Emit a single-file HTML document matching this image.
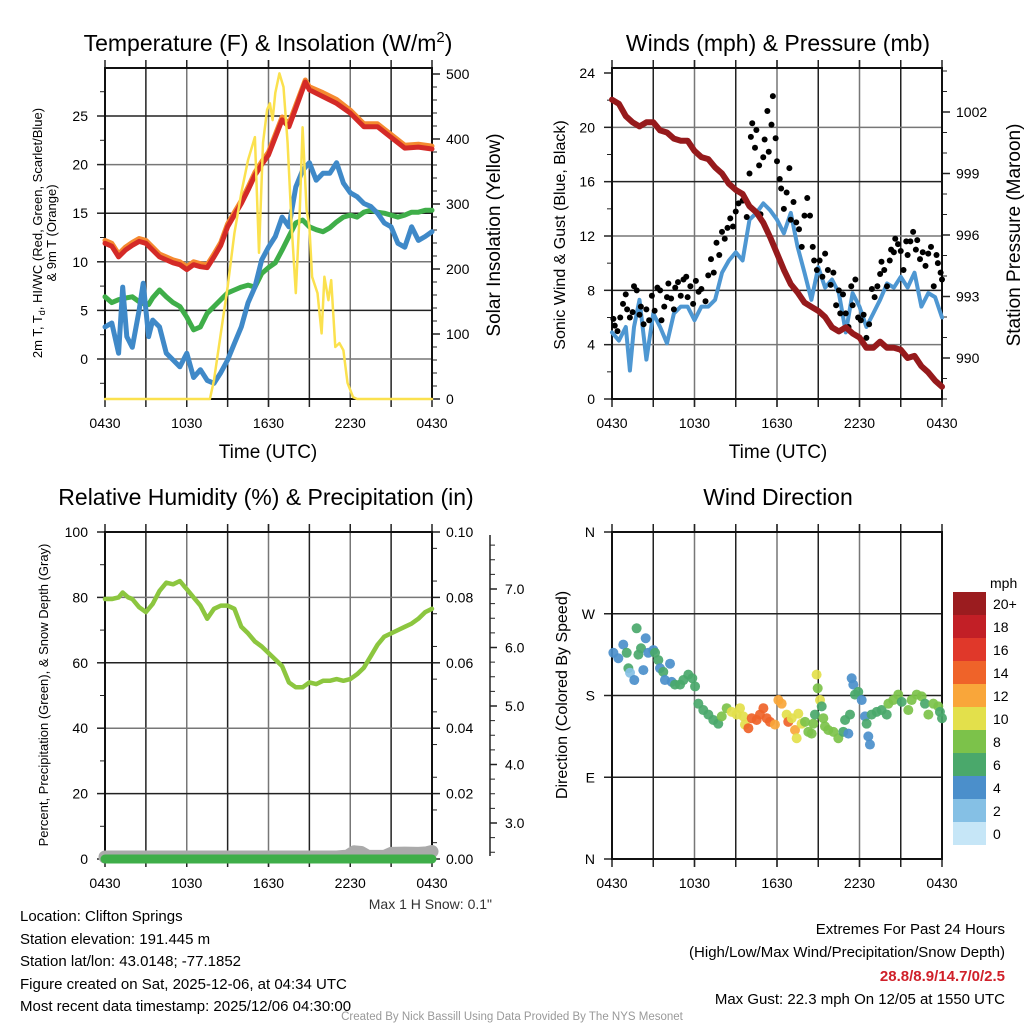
<!DOCTYPE html>
<html><head><meta charset="utf-8">
<style>
html,body{margin:0;padding:0;background:#fff;}
svg text{font-family:"Liberation Sans",Arial,sans-serif;}
</style></head>
<body>
<svg id="c" width="1024" height="1024" viewBox="0 0 1024 1024" xmlns="http://www.w3.org/2000/svg">
<rect width="1024" height="1024" fill="#fff"/>
<text x="268" y="51" font-size="23" text-anchor="middle">Temperature (F) &amp; Insolation (W/m<tspan dy="-9" font-size="15">2</tspan><tspan dy="9">)</tspan></text>
<text x="778" y="51" font-size="23" text-anchor="middle">Winds (mph) &amp; Pressure (mb)</text>
<text x="266" y="505" font-size="23" text-anchor="middle">Relative Humidity (%) &amp; Precipitation (in)</text>
<text x="778" y="505" font-size="23" text-anchor="middle">Wind Direction</text>
<text x="268" y="458" font-size="19" text-anchor="middle">Time (UTC)</text>
<text x="778" y="458" font-size="19" text-anchor="middle">Time (UTC)</text>
<text transform="translate(42,233) rotate(-90)" font-size="13" text-anchor="middle">2m T, T<tspan dy="3" font-size="9">d</tspan><tspan dy="-3">, HI/WC (Red, Green, Scarlet/Blue)</tspan></text>
<text transform="translate(56,233) rotate(-90)" font-size="13" text-anchor="middle">&amp; 9m T (Orange)</text>
<text transform="translate(500,235) rotate(-90)" font-size="19" text-anchor="middle">Solar Insolation (Yellow)</text>
<text transform="translate(565,235) rotate(-90)" font-size="16" text-anchor="middle">Sonic Wind &amp; Gust (Blue, Black)</text>
<text transform="translate(1020,235) rotate(-90)" font-size="19" text-anchor="middle">Station Pressure (Maroon)</text>
<text transform="translate(48,695) rotate(-90)" font-size="13" text-anchor="middle">Percent, Precipitation (Green), &amp; Snow Depth (Gray)</text>
<text transform="translate(567,695) rotate(-90)" font-size="16" text-anchor="middle">Direction (Colored By Speed)</text>
<text x="492" y="909" font-size="14" fill="#333" text-anchor="end">Max 1 H Snow: 0.1"</text>
<g font-size="15">
<text x="20" y="921">Location: Clifton Springs</text>
<text x="20" y="944">Station elevation: 191.445 m</text>
<text x="20" y="966">Station lat/lon: 43.0148; -77.1852</text>
<text x="20" y="989">Figure created on Sat, 2025-12-06, at 04:34 UTC</text>
<text x="20" y="1011">Most recent data timestamp: 2025/12/06 04:30:00</text>
</g>
<g font-size="15" text-anchor="end">
<text x="1005" y="934">Extremes For Past 24 Hours</text>
<text x="1005" y="957">(High/Low/Max Wind/Precipitation/Snow Depth)</text>
<text x="1005" y="981" fill="#d0202a" font-weight="bold">28.8/8.9/14.7/0/2.5</text>
<text x="1005" y="1004">Max Gust: 22.3 mph On 12/05 at 1550 UTC</text>
</g>
<text x="512" y="1020" font-size="11.5" fill="#999" text-anchor="middle">Created By Nick Bassill Using Data Provided By The NYS Mesonet</text>
<g id="plots"></g>
</svg>
<script>
// ---- data (hours since 04:30 UTC) ----
const hours = [0,0.5,1,1.5,2,2.5,3,3.5,4,4.5,5,5.5,6,6.5,7,7.5,8,8.5,9,9.5,10,10.5,11,11.5,12,12.5,13,13.5,14,14.7,15,16,17,18,19,20,21,22,23,24];
const tempRed = [11.9,11.6,10.5,11.2,11.7,12.1,11.9,11.2,10.5,10.2,9.9,9.7,9.2,9.7,9.5,9.4,10.5,11.7,13.6,14.8,16,17.4,18.9,20,21,22.8,24.6,23.9,25.8,28.5,27.7,27,26.3,25.3,23.9,23.9,22.8,21.7,21.8,21.6];
const temp9m = [12.2,11.9,10.8,11.5,12,12.4,12.2,11.5,10.8,10.5,10.2,10,9.5,10,9.8,9.7,10.8,12,13.9,15.1,16.3,17.7,19.2,20.3,21.3,23.1,24.9,24.2,26.1,28.7,28,27.4,26.7,25.6,24.2,24.2,23.1,22,22.1,21.9];
const tHours = [0,0.5,1,1.3,1.6,2,2.5,2.8,3.2,3.5,4,4.5,5,5.5,6,6.5,7,7.5,8,8.5,9,9.5,10,10.5,11,11.5,12,12.5,13,13.5,14,14.5,15,15.5,16,16.5,17,17.5,18,18.5,19,19.5,20,20.5,21,21.5,22,22.5,23,23.5,24];
const tempBlue = [3.3,3.7,0.6,7.4,2.3,1.2,5,7.8,2.3,4,3.3,0.6,-0.1,-0.8,0.6,-1.9,-1.1,-2.2,-2.5,-1.4,-0.1,1.6,3.3,5.8,7.4,10.2,11.5,12.6,14.6,13.6,17.7,19.4,20.2,18.4,19.1,19.1,20.2,18.1,17.1,16.7,16,15.7,15,14,13.6,11.9,11.5,13.6,12.2,12.6,13.1];
const tempGreen = [6.4,5.8,6.1,6.2,6.3,6.4,5.9,5.7,5.6,6.3,7.1,6.4,5.8,5.4,4.3,3,3.3,4.7,5.4,6.1,6.8,7.1,7.4,7.6,7.4,8.8,9.4,9.9,11.2,12.6,14,14.3,13.6,13.3,13.1,13.5,14.1,14.6,14.8,14.6,15.1,15.3,15.1,15,14.8,14.6,14.8,15.1,15.1,15.3,15.3];
const solarHours = [0,7.7,8,8.5,9,9.5,10,10.5,11,11.3,11.6,11.9,12.1,12.3,12.5,12.8,13.1,13.4,13.7,14,14.3,14.5,14.8,15,15.2,15.6,15.9,16.1,16.4,16.6,16.9,17.2,17.5,17.8,18.2,18.5,24];
const solar = [0,0,29,101,172,255,317,368,403,225,394,445,455,429,471,501,480,394,265,163,291,418,291,265,188,163,101,188,152,183,80,86,75,25,3,0,0];
const windHours = [0,0.5,1,1.3,1.6,2,2.5,3,3.5,4,4.5,5,5.5,6,6.5,7,7.5,8,8.5,9,9.5,10,10.5,11,11.5,12,12.5,13,13.5,14,14.5,15,15.5,16,16.5,17,17.5,18,18.5,19,19.5,20,20.5,21,21.5,22,22.5,23,23.5,24];
const windSpeed = [4.9,4.3,5.3,2.1,5.3,7.3,2.9,6.3,5.3,4.1,6.3,6.8,6.8,5.8,6.8,6.8,7.3,9.3,10.2,10.8,10.2,13.2,13.7,14.4,13.9,13.2,12.2,13.7,11.2,9.3,7.3,9.7,8.2,8.8,7.8,4.9,7.8,6.8,5.3,6.3,7.3,8.5,8.2,9,8.2,9.3,6.8,7.8,7.5,6.0];
const pressHours = [0,0.5,1,1.5,2,2.5,3,3.5,4,4.5,5,5.5,6,6.5,7,7.5,8,8.5,9,9.5,10,10.5,11,11.5,12,12.5,13,13.5,14,14.5,15,15.5,16,16.5,17,17.5,18,18.5,19,19.5,20,20.5,21,21.5,22,22.5,23,23.5,24];
const pressure = [1002.6,1002.4,1001.8,1001.5,1001.3,1001.5,1001.5,1001.1,1001,1000.7,1000.6,1000.6,1000.1,999.8,999.7,999.3,999,998.5,998.2,998,997.4,997.1,996.6,995.9,995.1,994.3,993.6,993.2,992.7,992.5,992.3,992,991.5,991.3,991.5,991.2,991,990.5,990.5,990.8,990.5,990.5,990.4,990,990.1,989.6,989.3,988.9,988.6];
const gustHours = [0.1,0.2,0.4,0.6,0.8,1.0,1.1,1.3,1.5,1.6,1.8,2.0,2.1,2.3,2.5,2.7,2.9,3.1,3.3,3.5,3.6,3.8,4.0,4.1,4.3,4.5,4.6,4.8,5.0,5.2,5.4,5.5,5.7,5.9,6.1,6.3,6.5,6.8,7.0,7.2,7.4,7.6,7.8,8.0,8.2,8.4,8.6,8.8,9.0,9.2,9.5,9.8,10.0,10.1,10.2,10.4,10.5,10.7,10.8,11.0,11.1,11.3,11.4,11.6,11.7,11.9,12.0,12.2,12.3,12.5,12.7,12.9,13.0,13.2,13.4,13.6,13.8,14.0,14.2,14.4,14.6,14.7,14.9,15.1,15.3,15.5,15.7,15.9,16.1,16.3,16.5,16.6,16.8,17.0,17.2,17.4,17.5,17.7,17.9,18.1,18.3,18.5,18.7,18.9,19.1,19.3,19.5,19.6,19.8,20.0,20.2,20.3,20.5,20.6,20.8,21.0,21.2,21.4,21.5,21.7,21.9,22.1,22.2,22.4,22.6,22.8,23.0,23.2,23.4,23.6,23.7,23.9,24.0];
const gustSpeed = [5.9,5.4,5.0,6.0,7.0,7.7,6.6,6.0,6.4,8.3,8.0,6.2,6.8,5.5,6.6,5.8,7.6,6.5,8.2,8.0,5.8,6.8,7.5,8.5,7.4,6.6,8.2,8.6,7.6,8.8,9.0,7.5,8.3,7.0,8.7,7.9,8.1,7.2,9.1,10.3,9.3,11.5,10.6,12.3,11.8,12.6,13.3,12.7,13.8,14.4,14.6,13.4,16.6,19.3,20.3,18.5,19.8,17.2,13.6,17.8,19.1,21.2,18.2,20.2,22.3,19.2,17.5,16.2,15.5,14.0,15.2,17.0,13.2,14.5,13.0,12.5,11.2,13.5,14.8,13.5,11.2,10.2,9.5,10.2,9.0,10.7,9.5,8.4,9.3,6.9,8.0,6.3,7.7,6.3,5.3,8.3,6.9,8.8,6.0,5.8,6.2,4.5,5.5,8.1,7.5,8.3,9.2,10.1,9.5,8.3,10.2,11.0,10.8,11.8,11.4,10.9,9.5,11.6,10.6,11.6,12.3,11.0,11.7,10.3,10.8,9.8,10.7,11.2,8.3,10.6,10.0,9.3,8.8];
const rhHours = [0,0.5,1,1.3,1.7,2,2.5,3,3.5,4,4.5,5,5.5,5.8,6,6.5,7,7.5,8,8.5,9,9.5,10,10.5,11,11.5,12,12.5,13,13.5,14,14.5,15,15.5,16,16.5,17,17.5,18,18.5,19,19.5,20,20.5,21,21.5,22,22.5,23,23.5,24];
const rh = [79.5,79.5,80,81.5,80,79.5,77,75.5,78,82,84.5,84,85,83.5,82.5,80,77.5,73.5,76.5,77.5,77.5,76.5,71,69,66.5,65,63,61,59,54,52.5,52.5,54,53.5,54.5,54.5,55,54.5,55,56.5,58.5,62,65.5,68,69,70,71,72,73.5,75.5,76.5];
const precipHours = [0,24];
const precip = [0,0];
const snowHours = [0,17,17.8,18.3,18.8,19.3,20.5,21,22,23,23.6,24];
const snowDepth = [0.6,0.6,0.9,2.2,2.0,0.8,0.8,1.7,1.8,1.7,1.9,2.3];
const dirHours = [0.10,0.46,0.82,1.07,1.19,1.31,1.62,1.79,1.92,2.11,2.28,2.45,2.64,3.01,3.13,3.37,3.49,3.73,3.85,4.22,4.34,4.58,4.95,5.19,5.55,5.84,6.04,6.28,6.64,7.01,7.37,7.73,7.98,8.34,8.70,9.07,9.31,9.55,9.67,9.92,10.16,10.52,10.76,11.01,11.25,11.49,11.85,12.10,12.34,12.70,12.82,13.07,13.31,13.43,13.55,13.79,14.04,14.28,14.52,14.64,14.76,14.88,14.96,15.13,15.25,15.37,15.49,15.73,16.10,16.46,16.82,16.95,17.19,17.31,17.43,17.55,17.67,17.91,18.16,18.40,18.52,18.64,18.76,18.88,19.25,19.61,19.98,20.10,20.46,20.82,21.07,21.55,21.79,22.16,22.52,22.76,23.01,23.37,23.73,23.85,24.0];
const dirDeg = [227,221,236,227,210,205,197,254,225,232,208,243,227,230,227,219,210,206,197,215,195,192,192,197,203,199,190,171,164,159,153,149,157,166,162,159,166,157,148,144,155,153,159,166,155,151,148,175,171,159,151,155,142,133,160,149,151,140,138,149,159,203,188,175,168,155,146,142,140,133,140,153,138,159,199,192,181,184,175,157,149,135,126,159,162,164,159,171,175,181,173,164,175,181,179,171,159,171,168,162,155];
const dirSpeed = [5,5,5,7,7,3,5,7,7,7,5,5,5,5,7,7,5,7,5,5,5,7,7,7,7,7,7,7,7,7,7,7,9,9,11,11,11,11,11,15,15,15,15,15,15,15,13,13,13,11,15,11,13,11,11,11,9,9,9,9,7,11,9,11,7,9,9,9,9,9,7,7,5,7,5,5,7,7,5,5,7,5,5,7,7,7,7,9,9,9,7,9,9,9,9,7,9,9,9,7,7];
const cbLabels = ["20+","18","16","14","12","10","8","6","4","2","0"];
const cbColors = ["#9b1c1f","#c21f26","#e0382a","#ef6329","#f9a63a","#e3e04b","#7cc24a","#4aa86b","#4b8fcb","#85c0e5","#c6e6f7"];
const xTickLabels = ["0430","1030","1630","2230","0430"];
const tempTicks = [0,5,10,15,20,25];
const solarTicks = [0,100,200,300,400,500];
const windTicks = [0,4,8,12,16,20,24];
const pressTicks = [990,993,996,999,1002];
const rhTicks = [0,20,40,60,80,100];
const precipTicks = ["0.00","0.02","0.04","0.06","0.08","0.10"];
const snowTicks = ["3.0","4.0","5.0","6.0","7.0"];
const dirLabels = ["N","E","S","W","N"];

const NS="http://www.w3.org/2000/svg";
const root=document.getElementById('plots');
function mk(tag,attrs,parent){const e=document.createElementNS(NS,tag);for(const k in attrs)e.setAttribute(k,attrs[k]);(parent||root).appendChild(e);return e;}
function lin(d0,d1,r0,r1){return v=>r0+(v-d0)*(r1-r0)/(d1-d0);}

function frame(P,name){
  const g=mk('g',{});
  
  
  for(let h=3;h<24;h+=3){const x=P.x(h);const l=mk('line',{x1:x,x2:x,y1:P.t-8,y2:P.b+8,stroke:(h%6==0)?'#777':'#222','stroke-width':1.5},g);
    
    }
  xTickLabels.forEach((s,i)=>{const x=P.x(i*6);
    mk('line',{x1:x,x2:x,y1:P.b,y2:P.b+8,stroke:'#222','stroke-width':1.5},g);
    mk('line',{x1:x,x2:x,y1:P.t-8,y2:P.t,stroke:'#222','stroke-width':1.5},g);
    const t=mk('text',{x:x,y:P.b+29,'font-size':14,'text-anchor':'middle'},g);t.textContent=s;
    
    });
  return g;
}
function hgrid(g,P,y,dark){mk('line',{x1:P.l,x2:P.r,y1:y,y2:y,stroke:dark?'#222':'#777','stroke-width':1.5},g);}
function box(g,P){mk('rect',{x:P.l,y:P.t,width:P.r-P.l,height:P.b-P.t,fill:'none',stroke:'#111','stroke-width':2},g);}
function path(xs,ys,fx,fy,attrs,name){let d='';xs.forEach((h,i)=>{d+=(i?'L':'M')+fx(h).toFixed(1)+','+fy(ys[i]).toFixed(1);});
  const p=mk('path',Object.assign({d:d,fill:'none','stroke-linejoin':'round','stroke-linecap':'round'},attrs));
  
  return p;}
function lab(g,x,y,s,anchor,size){const t=mk('text',{x:x,y:y,'font-size':size||14,'text-anchor':anchor},g);t.textContent=s;
  
  return t;}

// ---- Panel 1 ----
(function(){
  const P={l:105,r:432,t:68,b:399};P.x=lin(0,24,P.l,P.r);
  const yT=lin(0,25,359,116), yS=lin(0,500,399,74);
  const g=frame(P,'temperature');
  tempTicks.forEach((v,i)=>{const y=yT(v);hgrid(g,P,y,i%2==1);mk('line',{x1:P.l-8,x2:P.l,y1:y,y2:y,stroke:'#222','stroke-width':1.5},g);lab(g,P.l-17,y+5,String(v),'end');});
  for(let v=-2.5;v<30;v+=5){const y=yT(v);if(y>P.t&&y<P.b)mk('line',{x1:P.l-5,x2:P.l,y1:y,y2:y,stroke:'#222'},g);}
  solarTicks.forEach(v=>{const y=yS(v);mk('line',{x1:P.r,x2:P.r+8,y1:y,y2:y,stroke:'#222','stroke-width':1.5},g);lab(g,P.r+14,y+5,String(v),'start');});
  for(let v=20;v<510;v+=20){if(v%100)mk('line',{x1:P.r,x2:P.r+5,y1:yS(v),y2:yS(v),stroke:'#222'},g);}
  path(tHours,tempGreen,P.x,yT,{stroke:'#3fae49','stroke-width':5},'dewpoint-line');
  path(tHours,tempBlue,P.x,yT,{stroke:'#3f89c8','stroke-width':5},'windchill-line');
  path(hours,temp9m,P.x,yT,{stroke:'#f58a30','stroke-width':5},'temp-9m-line');
  path(hours,tempRed,P.x,yT,{stroke:'#d42a27','stroke-width':5},'temp-2m-line');
  path(solarHours,solar,P.x,yS,{stroke:'#fbe14e','stroke-width':2.5},'solar-insolation-line');
  box(g,P);
})();
// ---- Panel 2 ----
(function(){
  const P={l:612,r:942,t:68,b:399};P.x=lin(0,24,P.l,P.r);
  const yW=lin(0,24,399,73), yP=lin(990,1002,358,112);
  const g=frame(P,'winds');
  windTicks.forEach((v,i)=>{const y=yW(v);if(v>0&&v<24)hgrid(g,P,y,i%2==0);mk('line',{x1:P.l-8,x2:P.l,y1:y,y2:y,stroke:'#222','stroke-width':1.5},g);lab(g,P.l-17,y+5,String(v),'end');});
  for(let v=2;v<24;v+=4)mk('line',{x1:P.l-5,x2:P.l,y1:yW(v),y2:yW(v),stroke:'#222'},g);
  pressTicks.forEach(v=>{const y=yP(v);mk('line',{x1:P.r,x2:P.r+8,y1:y,y2:y,stroke:'#222','stroke-width':1.5},g);lab(g,P.r+14,y+5,String(v),'start');});
  for(let v=988;v<=1004;v++){if((v-990)%3)mk('line',{x1:P.r,x2:P.r+5,y1:yP(v),y2:yP(v),stroke:'#222'},g);}
  path(windHours,windSpeed,P.x,yW,{stroke:'#4e97d2','stroke-width':4},'sonic-wind-line');
  gustHours.forEach((h,i)=>{const c=mk('circle',{cx:P.x(h),cy:yW(gustSpeed[i]),r:3,fill:'#000'});
    
    });
  path(pressHours,pressure,P.x,yP,{stroke:'#961a1c','stroke-width':6},'pressure-line');
  box(g,P);
})();
// ---- Panel 3 ----
(function(){
  const P={l:105,r:432,t:532,b:859};P.x=lin(0,24,P.l,P.r);
  const yR=lin(0,100,859,532), yPr=lin(0,0.1,859,532), ySn=lin(3,7,823,589);
  const g=frame(P,'humidity');
  rhTicks.forEach((v,i)=>{const y=yR(v);if(v>0&&v<100)hgrid(g,P,y,i%2==1);mk('line',{x1:P.l-8,x2:P.l,y1:y,y2:y,stroke:'#222','stroke-width':1.5},g);lab(g,P.l-17,y+5,String(v),'end');});
  for(let v=10;v<100;v+=20)mk('line',{x1:P.l-5,x2:P.l,y1:yR(v),y2:yR(v),stroke:'#222'},g);
  precipTicks.forEach(s=>{const y=yPr(parseFloat(s));mk('line',{x1:P.r,x2:P.r+8,y1:y,y2:y,stroke:'#222','stroke-width':1.5},g);lab(g,P.r+14,y+5,s,'start');});
  for(let v=0.005;v<0.1;v+=0.01)mk('line',{x1:P.r,x2:P.r+5,y1:yPr(v),y2:yPr(v),stroke:'#222'},g);
  mk('line',{x1:490,x2:490,y1:535,y2:856,stroke:'#222','stroke-width':1.5},g);
  snowTicks.forEach(s=>{const y=ySn(parseFloat(s));mk('line',{x1:490,x2:497,y1:y,y2:y,stroke:'#222','stroke-width':1.5},g);lab(g,505,y+5,s,'start');});
  for(let v=2.5;v<7.8;v+=0.25){if(Math.abs(v-Math.round(v))>0.01){const y=ySn(v);if(y>535&&y<856)mk('line',{x1:490,x2:495,y1:y,y2:y,stroke:'#222'},g);}}
  path(rhHours,rh,P.x,yR,{stroke:'#8cc63f','stroke-width':4.5},'relative-humidity-line');
  path(snowHours,snowDepth,P.x,yR,{stroke:'#aaa','stroke-width':13},'snow-depth-line');
  path(precipHours,precip,P.x,yPr,{stroke:'#3fae49','stroke-width':9},'precipitation-line');
  box(g,P);
})();
// ---- Panel 4 ----
(function(){
  const P={l:612,r:942,t:532,b:859};P.x=lin(0,24,P.l,P.r);
  const yD=lin(0,360,859,532);
  const g=frame(P,'wind-direction');
  dirLabels.forEach((s,i)=>{const y=yD(i*90);if(i>0&&i<4)hgrid(g,P,y,true);mk('line',{x1:P.l-8,x2:P.l,y1:y,y2:y,stroke:'#222','stroke-width':1.5},g);lab(g,P.l-17,y+5,s,'end');});
  dirHours.forEach((h,i)=>{const s=dirSpeed[i];const idx=Math.min(10,Math.floor(s/2));
    const c=mk('circle',{cx:P.x(h),cy:yD(dirDeg[i]),r:5,fill:cbColors[10-idx],'fill-opacity':0.92});
    
    });
  box(g,P);
  const cb=mk('g',{});
  
  
  const t=mk('text',{x:990,y:588,'font-size':14},cb);t.textContent='mph';
  cbLabels.forEach((s,i)=>{const y=592+i*23;mk('rect',{x:953,y:y,width:33,height:23,fill:cbColors[i]},cb);lab(cb,993,y+17,s,'start');});
})();
</script>
</body></html>
